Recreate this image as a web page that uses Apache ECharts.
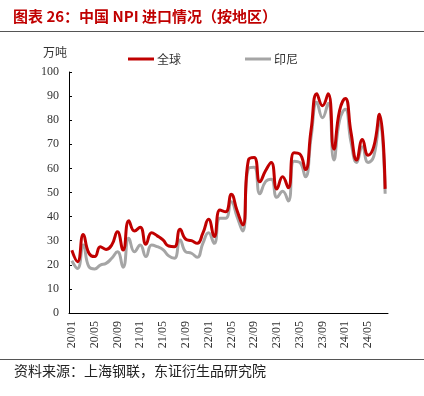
<!DOCTYPE html>
<html>
<head>
<meta charset="utf-8">
<script src="https://cdn.jsdelivr.net/npm/echarts@6/dist/echarts.min.js"></script>
<style>
  html, body { margin: 0; padding: 0; background: #fff; }
  #chart { width: 424px; height: 396px; }
</style>
</head>
<body>
<div id="chart"></div>
<script>
const months = [
  '20/01', '20/02', '20/03', '20/04', '20/05', '20/06', '20/07', '20/08', '20/09', '20/10', '20/11', '20/12',
  '21/01', '21/02', '21/03', '21/04', '21/05', '21/06', '21/07', '21/08', '21/09', '21/10', '21/11', '21/12',
  '22/01', '22/02', '22/03', '22/04', '22/05', '22/06', '22/07', '22/08', '22/09', '22/10', '22/11', '22/12',
  '23/01', '23/02', '23/03', '23/04', '23/05', '23/06', '23/07', '23/08', '23/09', '23/10', '23/11', '23/12',
  '24/01', '24/02', '24/03', '24/04', '24/05', '24/06', '24/07', '24/08'
]

// 全球
const globalImports = [
  26, 21.3, 32.6, 24.8, 23.4, 27.5, 26.4, 28.2, 33.7, 26.1, 38.3, 34,
  35.6, 28.5, 33.3, 32, 30.3, 27.8, 27.5, 34.7, 30.6, 30, 28.9, 33.1,
  38.9, 31.7, 42.7, 42, 49.3, 42.5, 36.5, 63.5, 64.5, 54.5, 59, 62.5,
  51.5, 56.5, 52, 66.5, 66, 59.5, 76, 91, 86, 91, 68, 84,
  89, 75, 63.5, 72, 65.5, 69, 82.5, 51.5
]

// 印尼
const indonesiaImports = [
  21.7, 18.5, 28.2, 19.2, 18.3, 19.9, 20.6, 22.7, 25.4, 19, 31, 25.4,
  28.2, 23.4, 28.2, 27.5, 26.3, 23.7, 22.7, 30.3, 25.4, 24.8, 23.1, 28.9,
  33.3, 28.9, 39.3, 39.3, 46.2, 40, 34, 60, 60.5, 49.5, 54.5, 55.5,
  48, 50.5, 46.5, 63, 62.5, 56.5, 73, 87.5, 81, 87, 63.5, 80,
  84.5, 71, 62.5, 69, 62.5, 65, 80, 49.5
]

const yTicks = { min: 0, max: 100, step: 10 }

const RED = '#C00000'
const GRAY = '#A5A5A5'
const NUM_FONT = '"Liberation Serif", "Noto Sans CJK SC", serif'
const CJK_FONT = '"Noto Sans CJK SC", "Liberation Serif", sans-serif'

const chart = echarts.init(document.getElementById('chart'))

const option = {
  animation: false,
  backgroundColor: '#fff',
  graphic: [
    {
      type: 'text',
      left: 13,
      top: 9,
      style: {
        text: '图表 26：中国 NPI 进口情况（按地区）',
        fill: RED,
        font: 'bold 15px ' + CJK_FONT
      }
    },
    {
      type: 'line',
      shape: { x1: 0, y1: 31.5, x2: 424, y2: 31.5 },
      style: { stroke: '#555', lineWidth: 1 }
    },
    {
      type: 'text',
      left: 43,
      top: 46,
      style: {
        text: '万吨',
        fill: '#333',
        font: '12px ' + CJK_FONT
      }
    },
    {
      type: 'line',
      shape: { x1: 0, y1: 359.5, x2: 424, y2: 359.5 },
      style: { stroke: '#555', lineWidth: 1 }
    },
    {
      type: 'text',
      left: 14,
      top: 364,
      style: {
        text: '资料来源：上海钢联，东证衍生品研究院',
        fill: '#222',
        font: '14px ' + CJK_FONT
      }
    }
  ],
  legend: {
    data: ['全球', '印尼'],
    left: 128,
    top: 53,
    padding: 0,
    itemWidth: 26,
    itemHeight: 3,
    itemGap: 64,
    icon: 'rect',
    textStyle: {
      fontFamily: CJK_FONT,
      fontSize: 12,
      color: '#333',
      padding: [0, 0, 0, -2]
    }
  },
  grid: {
    left: 69,
    right: 36,
    top: 72,
    bottom: 83,
    containLabel: false
  },
  xAxis: {
    type: 'category',
    data: months,
    boundaryGap: true,
    axisLine: { lineStyle: { color: '#000', width: 1 } },
    axisTick: { inside: true, length: 3, interval: 3, lineStyle: { color: '#000' } },
    axisLabel: {
      interval: 3,
      rotate: 90,
      margin: 8,
      color: '#333',
      fontFamily: NUM_FONT,
      fontSize: 12
    },
    splitLine: { show: false }
  },
  yAxis: {
    type: 'value',
    min: yTicks.min,
    max: yTicks.max,
    interval: yTicks.step,
    axisLine: { show: true, lineStyle: { color: '#000', width: 1 } },
    axisTick: { show: true, inside: true, length: 3, lineStyle: { color: '#000' } },
    axisLabel: {
      margin: 10,
      color: '#333',
      fontFamily: NUM_FONT,
      fontSize: 12
    },
    splitLine: { show: false }
  },
  series: [
    {
      name: '印尼',
      type: 'line',
      data: indonesiaImports,
      smooth: 0.5,
      symbol: 'none',
      lineStyle: { color: GRAY, width: 3 },
      itemStyle: { color: GRAY }
    },
    {
      name: '全球',
      type: 'line',
      data: globalImports,
      smooth: 0.5,
      symbol: 'none',
      lineStyle: { color: RED, width: 3 },
      itemStyle: { color: RED }
    }
  ]
}

chart.setOption(option)
</script>
</body>
</html>
